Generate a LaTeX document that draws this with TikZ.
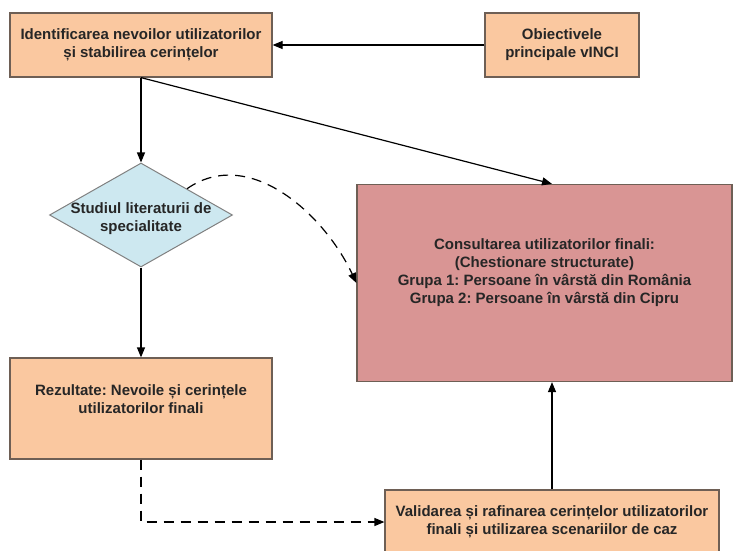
\documentclass[tikz,border=0pt]{standalone}
\usepackage{xcolor}
\usepackage{fontspec}
\setmainfont{Liberation Sans}
\usetikzlibrary{shapes.geometric, arrows.meta}

\definecolor{peach}{RGB}{250,200,160}
\definecolor{rose}{RGB}{217,149,148}
\definecolor{paleblue}{RGB}{205,232,240}
\definecolor{edgegray}{RGB}{110,95,85}

\begin{document}
\frenchspacing
\begin{tikzpicture}[
    x=1pt, y=-1pt,
    font=\fontsize{15}{18}\selectfont\bfseries,
    box/.style={rectangle, draw=edgegray, line width=1.2pt, align=center, fill=peach, text=black!85, inner sep=0pt},
    decision/.style={diamond, draw=gray, line width=1pt, fill=paleblue, text=black!85, inner sep=0pt},
    arrow/.style={-{Triangle[length=10pt, width=8pt]}, line width=1.2pt},
    dasharrow/.style={arrow, dash pattern=on 10pt off 7pt}
]
    \clip (0,0) rectangle (734,551);

    % Nodes
    \node[box, minimum width=262pt, minimum height=64pt] (ident) at (141,45) {Identificarea nevoilor utilizatorilor\\și stabilirea cerințelor};
    \node[box, minimum width=154pt, minimum height=64pt] (obj) at (562,45) {Obiectivele\\principale vINCI};
    \node[decision, minimum width=183pt, minimum height=104pt] (studiu) at (141,215) {\makebox[0pt]{\raisebox{-7pt}[0pt][0pt]{\begin{tabular}{@{}c@{}}Studiul literaturii de\\specialitate\end{tabular}}}};
    \node[box, fill=rose, minimum width=375pt, minimum height=197pt, text depth=24pt] (consult) at (544.5,283) {Consultarea utilizatorilor finali:\\(Chestionare structurate)\\Grupa 1: Persoane în vârstă din România\\Grupa 2: Persoane în vârstă din Cipru};
    \node[box, minimum width=262pt, minimum height=101pt, text depth=18pt] (rezultate) at (141,408.5) {Rezultate: Nevoile și cerințele\\utilizatorilor finali};
    \node[box, minimum width=334pt, minimum height=64pt] (valid) at (552,522) {Validarea și rafinarea cerințelor utilizatorilor\\finali și utilizarea scenariilor de caz};

    % Arrows
    \draw[arrow] (obj) -- (ident);
    \draw[arrow] (ident) -- (studiu);
    \draw[arrow] (ident.south) -- (valid.north |- consult.north);
    \draw[dasharrow] (studiu.north east) to[out=35, in=115] (consult.west);
    \draw[arrow] (studiu) -- (rezultate);
    \draw[dasharrow] (rezultate.south) |- (valid.west);
    \draw[arrow] (valid.north) -- (valid.north |- consult.south);
\end{tikzpicture}
\end{document}
